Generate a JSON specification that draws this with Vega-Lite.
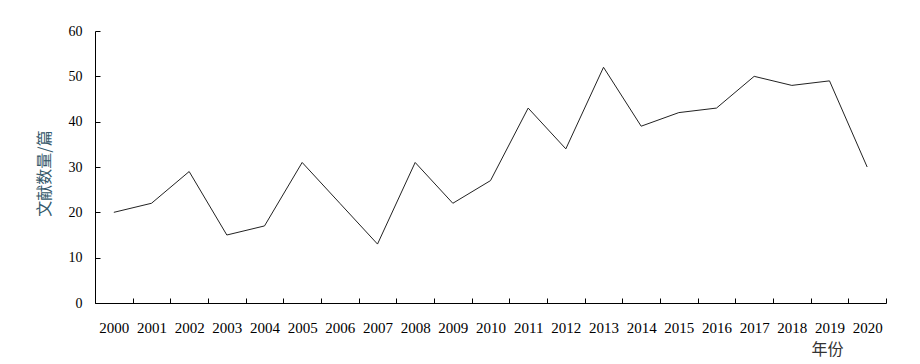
{
  "$schema": "https://vega.github.io/schema/vega-lite/v6.json",
  "width": 791,
  "height": 272,
  "autosize": "none",
  "padding": {"left": 95, "top": 31, "right": 34, "bottom": 61},
  "background": "white",
  "config": {
    "view": {"stroke": null},
    "axis": {
      "grid": false,
      "domainColor": "black",
      "domainWidth": 1,
      "tickColor": "black",
      "tickWidth": 1,
      "labelFont": "Liberation Serif",
      "labelFontSize": 14,
      "labelColor": "black",
      "titleFont": "Noto Sans CJK SC",
      "titleFontWeight": "normal",
      "titleFontSize": 16
    }
  },
  "data": {
    "values": [
      {"year": "2000", "count": 20},
      {"year": "2001", "count": 22},
      {"year": "2002", "count": 29},
      {"year": "2003", "count": 15},
      {"year": "2004", "count": 17},
      {"year": "2005", "count": 31},
      {"year": "2006", "count": 22},
      {"year": "2007", "count": 13},
      {"year": "2008", "count": 31},
      {"year": "2009", "count": 22},
      {"year": "2010", "count": 27},
      {"year": "2011", "count": 43},
      {"year": "2012", "count": 34},
      {"year": "2013", "count": 52},
      {"year": "2014", "count": 39},
      {"year": "2015", "count": 42},
      {"year": "2016", "count": 43},
      {"year": "2017", "count": 50},
      {"year": "2018", "count": 48},
      {"year": "2019", "count": 49},
      {"year": "2020", "count": 30}
    ]
  },
  "mark": {"type": "line", "color": "#222222", "strokeWidth": 1},
  "encoding": {
    "x": {
      "field": "year",
      "type": "ordinal",
      "bandPosition": 0.5,
      "scale": {"type": "band", "paddingInner": 0, "paddingOuter": 0},
      "axis": {
        "tickBand": "extent",
        "tickSize": -5,
        "labelAngle": 0,
        "labelFontSize": 15,
        "labelPadding": 22,
        "labelBaseline": "top",
        "title": "年份",
        "titleColor": "#333333",
        "titleX": 732,
        "titleY": 46,
        "titleAlign": "center",
        "titleBaseline": "middle"
      }
    },
    "y": {
      "field": "count",
      "type": "quantitative",
      "scale": {"domain": [0, 60], "nice": false},
      "axis": {
        "values": [0, 10, 20, 30, 40, 50, 60],
        "tickSize": -5,
        "labelPadding": 18,
        "title": "文献数量/篇",
        "titleColor": "#35596b",
        "titleX": -51,
        "titleY": 142,
        "titleAngle": -90,
        "titleAlign": "center",
        "titleBaseline": "middle"
      }
    }
  }
}
